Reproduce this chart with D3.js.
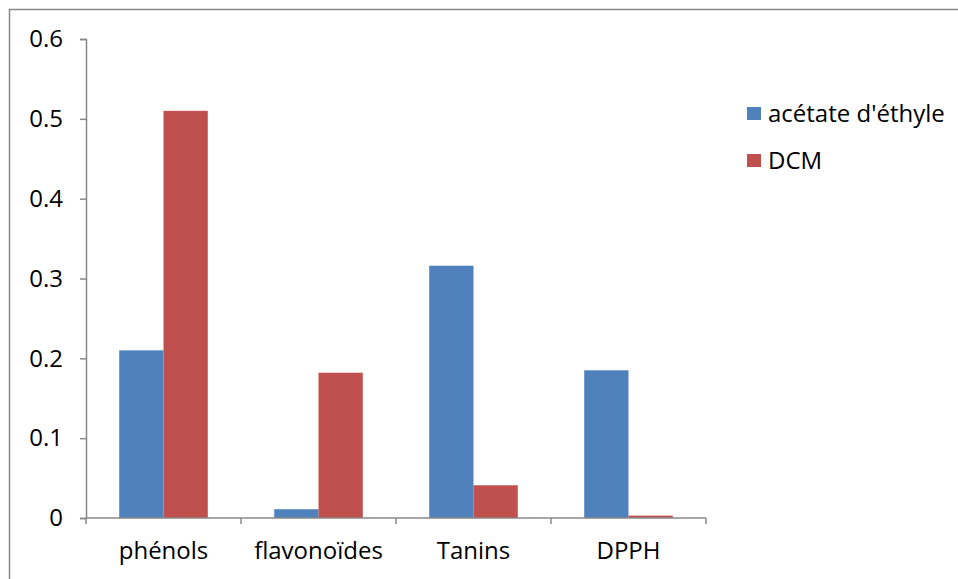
<!DOCTYPE html>
<html>
<head>
<meta charset="utf-8">
<script src="https://cdn.jsdelivr.net/npm/d3@7"></script>
<style>
  html, body { margin: 0; padding: 0; background: #fff; }
  svg { display: block; }
  text { font-family: "Open Sans", Lato, "Liberation Sans", sans-serif; fill: #000; }
</style>
</head>
<body>
<svg id="chart" width="958" height="579"></svg>
<script>
// Measurements per test, two extraction solvents
const categories = ["phénols", "flavonoïdes", "Tanins", "DPPH"];
const seriesNames = ["acétate d'éthyle", "DCM"];
const acetateValues = [0.21, 0.011, 0.316, 0.185];
const dcmValues = [0.51, 0.182, 0.041, 0.003];
const yTicks = [0, 0.1, 0.2, 0.3, 0.4, 0.5, 0.6];
const colors = ["#4f81bd", "#c0504d"];

const svg = d3.select("#chart");

// Chart area border (runs off the right and bottom edges)
svg.append("rect")
  .attr("x", 9.5).attr("y", 9.5)
  .attr("width", 960).attr("height", 580)
  .attr("fill", "#fff")
  .attr("stroke", "#888").attr("stroke-width", 1.5);

const plot = { left: 86, right: 706, top: 39, bottom: 518 };

const x0 = d3.scaleBand()
  .domain(categories)
  .range([plot.left, plot.right])
  .paddingInner(0).paddingOuter(0);

// Gap width of 150%: two bars share 2/3.5 of each category slot
const groupInner = x0.bandwidth() * 2 / 3.5;
const x1 = d3.scaleBand()
  .domain(seriesNames)
  .range([0, groupInner])
  .padding(0);

const y = d3.scaleLinear().domain([0, 0.6]).range([plot.bottom, plot.top]);

const rows = categories.map((c, i) => ({
  category: c,
  values: [
    { name: seriesNames[0], value: acetateValues[i], color: colors[0] },
    { name: seriesNames[1], value: dcmValues[i], color: colors[1] }
  ]
}));

const groups = svg.append("g").selectAll("g")
  .data(rows)
  .join("g")
  .attr("transform", d => `translate(${x0(d.category) + (x0.bandwidth() - groupInner) / 2},0)`);

groups.selectAll("rect")
  .data(d => d.values)
  .join("rect")
  .attr("x", d => x1(d.name))
  .attr("y", d => y(d.value))
  .attr("width", x1.bandwidth())
  .attr("height", d => y(0) - y(d.value))
  .attr("fill", d => d.color);

// Y axis
const yAxis = d3.axisLeft(y)
  .tickValues(yTicks)
  .tickFormat(d => d === 0 ? "0" : d3.format(".1f")(d))
  .tickSize(6)
  .tickPadding(17);

const yg = svg.append("g")
  .attr("transform", `translate(${plot.left},0)`)
  .call(yAxis);
yg.select(".domain").attr("stroke", "#888").attr("stroke-width", 1.5);
yg.selectAll(".tick line").attr("stroke", "#888").attr("stroke-width", 1.5);
yg.selectAll(".tick text").style("font-size", "24px").attr("fill", "#000");

// X axis with ticks at category boundaries
const xg = svg.append("g").attr("transform", `translate(0,${plot.bottom})`);
xg.append("line")
  .attr("x1", plot.left).attr("x2", plot.right)
  .attr("stroke", "#888").attr("stroke-width", 1.5);
const boundaries = categories.map(c => x0(c)).concat([plot.right]);
xg.selectAll("line.tk")
  .data(boundaries)
  .join("line")
  .attr("class", "tk")
  .attr("x1", d => d).attr("x2", d => d)
  .attr("y1", 0).attr("y2", 6)
  .attr("stroke", "#888").attr("stroke-width", 1.5);
xg.selectAll("text")
  .data(categories)
  .join("text")
  .attr("x", d => x0(d) + x0.bandwidth() / 2)
  .attr("y", 41)
  .attr("text-anchor", "middle")
  .style("font-size", "24px")
  .text(d => d);

// Legend
const legend = svg.append("g").attr("transform", "translate(747,107)");
const items = legend.selectAll("g")
  .data(seriesNames)
  .join("g")
  .attr("transform", (d, i) => `translate(0,${i * 47})`);
items.append("rect")
  .attr("width", 14).attr("height", 13)
  .attr("fill", (d, i) => colors[i]);
items.append("text")
  .attr("x", 21).attr("y", 7)
  .attr("dy", "0.35em")
  .style("font-size", "24px")
  .text(d => d);
</script>
</body>
</html>
